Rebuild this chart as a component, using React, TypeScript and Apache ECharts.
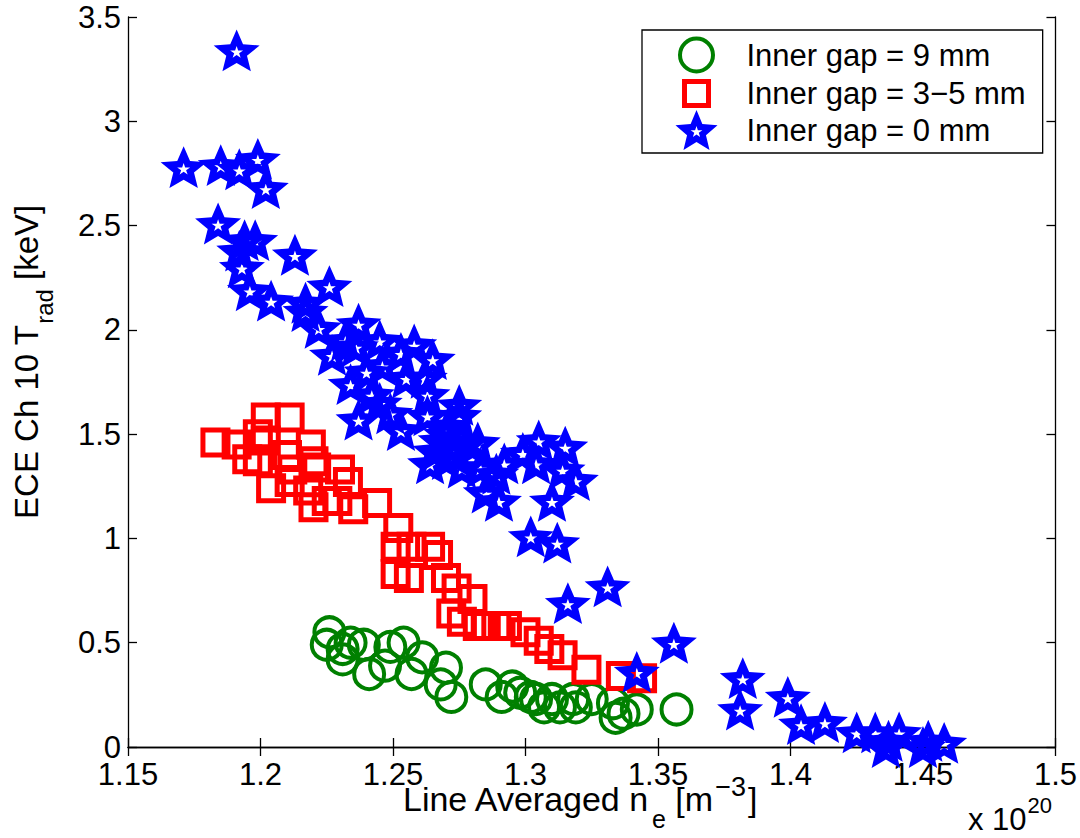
import React, { useEffect, useRef } from 'react';
import * as echarts from 'echarts';

const xTickValues = [1.15, 1.2, 1.25, 1.3, 1.35, 1.4, 1.45, 1.5];
const yTickValues = [0, 0.5, 1, 1.5, 2, 2.5, 3, 3.5];

const seriesNames = ['Inner gap = 9 mm', 'Inner gap = 3\u22125 mm', 'Inner gap = 0 mm'];

const gap9Points = [
  [1.226, 0.55], [1.225, 0.49], [1.231, 0.47], [1.231, 0.42], [1.234, 0.50], [1.239, 0.49],
  [1.241, 0.35], [1.249, 0.48], [1.254, 0.50], [1.247, 0.39], [1.257, 0.35], [1.261, 0.43],
  [1.270, 0.38], [1.268, 0.30], [1.272, 0.24], [1.285, 0.30], [1.291, 0.24], [1.295, 0.29],
  [1.298, 0.26], [1.302, 0.24], [1.304, 0.23], [1.307, 0.19], [1.310, 0.23], [1.313, 0.19],
  [1.318, 0.23], [1.319, 0.19], [1.325, 0.23], [1.333, 0.21], [1.334, 0.14], [1.337, 0.16],
  [1.342, 0.18], [1.357, 0.18],
];

const gap35Points = [
  [1.183, 1.46], [1.191, 1.45], [1.199, 1.50], [1.202, 1.58], [1.211, 1.58], [1.202, 1.47],
  [1.199, 1.37], [1.210, 1.40], [1.219, 1.45], [1.220, 1.37], [1.204, 1.24], [1.211, 1.27],
  [1.218, 1.23], [1.221, 1.34], [1.230, 1.33], [1.233, 1.27], [1.225, 1.18], [1.220, 1.15],
  [1.229, 1.18], [1.235, 1.14], [1.244, 1.17], [1.252, 1.05], [1.251, 0.96], [1.257, 0.96],
  [1.251, 0.83], [1.256, 0.81], [1.264, 0.96], [1.267, 0.92], [1.270, 0.81], [1.274, 0.76],
  [1.280, 0.71], [1.272, 0.64], [1.276, 0.60], [1.282, 0.58], [1.285, 0.58], [1.289, 0.58],
  [1.293, 0.58], [1.300, 0.55], [1.305, 0.51], [1.309, 0.47], [1.314, 0.44], [1.323, 0.37],
  [1.336, 0.34], [1.344, 0.33], [1.212, 1.33], [1.195, 1.38],
];

const gap0Points = [
  [1.191, 3.34],
  [1.171, 2.78], [1.185, 2.79], [1.192, 2.77], [1.199, 2.82], [1.202, 2.68],
  [1.184, 2.51], [1.194, 2.43], [1.198, 2.43], [1.192, 2.38], [1.193, 2.30], [1.213, 2.36],
  [1.196, 2.19], [1.204, 2.14], [1.217, 2.13], [1.226, 2.21],
  [1.217, 2.09], [1.222, 2.01], [1.227, 1.88], [1.232, 1.95], [1.237, 2.03], [1.236, 1.92],
  [1.245, 1.95], [1.246, 1.83], [1.253, 1.89], [1.258, 1.93], [1.265, 1.86], [1.255, 1.77],
  [1.262, 1.77], [1.263, 1.69], [1.242, 1.69], [1.237, 1.57], [1.249, 1.60], [1.245, 1.65],
  [1.263, 1.59], [1.253, 1.52], [1.275, 1.64], [1.268, 1.47], [1.273, 1.44], [1.264, 1.36],
  [1.270, 1.38], [1.278, 1.46], [1.282, 1.46], [1.276, 1.34], [1.283, 1.34], [1.289, 1.31],
  [1.292, 1.36], [1.290, 1.18], [1.285, 1.22], [1.299, 1.41], [1.305, 1.47], [1.304, 1.36],
  [1.315, 1.44], [1.314, 1.33], [1.310, 1.18], [1.319, 1.28], [1.302, 1.01], [1.312, 0.98],
  [1.271, 1.54], [1.275, 1.59], [1.270, 1.50], [1.266, 1.42], [1.273, 1.40], [1.234, 1.74],
  [1.240, 1.80],
  [1.316, 0.69], [1.331, 0.77], [1.356, 0.50], [1.342, 0.36],
  [1.382, 0.33], [1.381, 0.18], [1.399, 0.24], [1.404, 0.11], [1.413, 0.12], [1.425, 0.07],
  [1.432, 0.07], [1.437, 0.03], [1.441, 0.07], [1.450, 0.00], [1.458, 0.02], [1.452, 0.03],
  [1.436, 0.0],
];

const FONT = '"Liberation Sans", Arial, Helvetica, sans-serif';

function starRing(scale: number, innerRatio: number, reverse: boolean) {
  const pts: number[][] = [];
  for (let k = 0; k < 10; k++) {
    const ang = ((-90 + k * 36) * Math.PI) / 180;
    const r = (k % 2 === 0 ? 1 : innerRatio) * scale * 50;
    pts.push([50 + r * Math.cos(ang), 50 + r * Math.sin(ang)]);
  }
  if (reverse) pts.reverse();
  return 'M' + pts.map((p) => p[0].toFixed(2) + ' ' + p[1].toFixed(2)).join(' L') + ' Z';
}
const STAR = 'path://' + starRing(1, 0.45, false) + ' ' + starRing(0.28, 0.382, true);
const CIRCLE_ICON = 'path://M0 0 M100 100 M91.25 50 A41.25 41.25 0 1 1 8.75 50 A41.25 41.25 0 1 1 91.25 50 Z';
const SQUARE_ICON = 'path://M0 0 M100 100 M20 20 L80 20 L80 80 L20 80 Z';

export default function App() {
  const ref = useRef<HTMLDivElement>(null);
  useEffect(() => {
    if (!ref.current) return;
    const chart = echarts.init(ref.current, undefined, { renderer: 'svg' });
    const axisLine = { show: true, lineStyle: { color: '#000', width: 1.3 } };
    const tick = { show: true, inside: true, length: 9, lineStyle: { color: '#000', width: 1.3 } };
    const xMin = xTickValues[0];
    const xMax = xTickValues[xTickValues.length - 1];
    const xInt = 0.05;
    const yMin = yTickValues[0];
    const yMax = yTickValues[yTickValues.length - 1];
    const yInt = 0.5;
    const fmt = (v: number) => String(+v.toFixed(2));
    const richY = {
      m: { fontSize: 33, verticalAlign: 'top', padding: [12, 0, 0, 0], fontFamily: FONT, color: '#000' },
      sub: { fontSize: 24, verticalAlign: 'top', padding: [34, 0, 0, 1], fontFamily: FONT, color: '#000' },
    };
    const richX = {
      m: { fontSize: 34, verticalAlign: 'top', padding: [12, 0, 0, 0], fontFamily: FONT, color: '#000' },
      sub: { fontSize: 25, verticalAlign: 'top', padding: [36, 0, 0, 2], fontFamily: FONT, color: '#000' },
      sup: { fontSize: 27, verticalAlign: 'top', padding: [3, 2, 0, 2], fontFamily: FONT, color: '#000' },
    };
    const option: any = {
      animation: false,
      grid: { left: 128, right: 24, top: 17, bottom: 91, containLabel: false },
      xAxis: [
        {
          type: 'value', min: xMin, max: xMax, interval: xInt, position: 'bottom',
          axisLine, axisTick: tick, splitLine: { show: false },
          axisLabel: { fontSize: 31, fontFamily: FONT, color: '#000', margin: 12, formatter: fmt },
        },
        {
          type: 'value', min: xMin, max: xMax, interval: xInt, position: 'top',
          axisLine, axisTick: tick, splitLine: { show: false }, axisLabel: { show: false },
        },
      ],
      yAxis: [
        {
          type: 'value', min: yMin, max: yMax, interval: yInt, position: 'left',
          axisLine, axisTick: tick, splitLine: { show: false },
          axisLabel: { fontSize: 31, fontFamily: FONT, color: '#000', margin: 7, formatter: fmt },
        },
        {
          type: 'value', min: yMin, max: yMax, interval: yInt, position: 'right',
          axisLine, axisTick: tick, splitLine: { show: false }, axisLabel: { show: false },
        },
      ],
      legend: {
        orient: 'vertical', left: 642, top: 30, padding: [3, 17, 3, 32], itemGap: -6,
        itemWidth: 90, itemHeight: 40, selectedMode: false, symbolKeepAspect: true,
        borderColor: '#000', borderWidth: 1.3, backgroundColor: '#fff',
        textStyle: { fontSize: 31, fontFamily: FONT, color: '#000' },
        data: [
          { name: seriesNames[0], icon: CIRCLE_ICON, itemStyle: { color: 'rgba(0,0,0,0)', borderColor: '#008000', borderWidth: 4 } },
          { name: seriesNames[1], icon: SQUARE_ICON, itemStyle: { color: 'rgba(0,0,0,0)', borderColor: '#ff0000', borderWidth: 5 } },
          { name: seriesNames[2], icon: STAR, itemStyle: { color: '#0000ff', borderWidth: 0 } },
        ],
      },
      series: [
        {
          name: seriesNames[0], type: 'scatter', data: gap9Points, symbol: 'circle', symbolSize: 30,
          itemStyle: { color: 'rgba(0,0,0,0)', borderColor: '#008000', borderWidth: 4, opacity: 1 },
          emphasis: { disabled: true }, silent: true,
        },
        {
          name: seriesNames[1], type: 'scatter', data: gap35Points, symbol: 'rect', symbolSize: 25,
          itemStyle: { color: 'rgba(0,0,0,0)', borderColor: '#ff0000', borderWidth: 5, opacity: 1 },
          emphasis: { disabled: true }, silent: true,
        },
        {
          name: seriesNames[2], type: 'scatter', data: gap0Points, symbol: STAR, symbolSize: [46, 44],
          symbolKeepAspect: true,
          itemStyle: { color: '#0000ff', borderWidth: 0, opacity: 1 },
          emphasis: { disabled: true }, silent: true,
        },
      ],
      graphic: [
        {
          type: 'text', x: 403, y: 770, silent: true,
          style: {
            text: '{m|Line Averaged n}{sub|e}{m| [m}{sup|\u22123}{m|]}',
            rich: richX, align: 'left', verticalAlign: 'top',
          },
        },
        {
          type: 'text', x: 27, y: 362, rotation: Math.PI / 2, silent: true,
          style: {
            text: '{m|ECE Ch 10 T}{sub|rad}{m| [keV]}',
            rich: richY, align: 'center', verticalAlign: 'middle',
          },
        },
        {
          type: 'text', x: 1052, y: 792, silent: true,
          style: {
            text: '{a|x 10}{b|20}',
            align: 'right', verticalAlign: 'top',
            rich: {
              a: { fontSize: 31, verticalAlign: 'top', padding: [12, 0, 0, 0], fontFamily: FONT, color: '#000' },
              b: { fontSize: 22, verticalAlign: 'top', padding: [2, 0, 0, 1], fontFamily: FONT, color: '#000' },
            },
          },
        },
      ],
    };
    chart.setOption(option);
    return () => chart.dispose();
  }, []);
  return (
    <div
      ref={ref}
      style={{ position: 'fixed', left: 0, top: 0, width: 1080, height: 838, background: '#fff' }}
    />
  );
}
